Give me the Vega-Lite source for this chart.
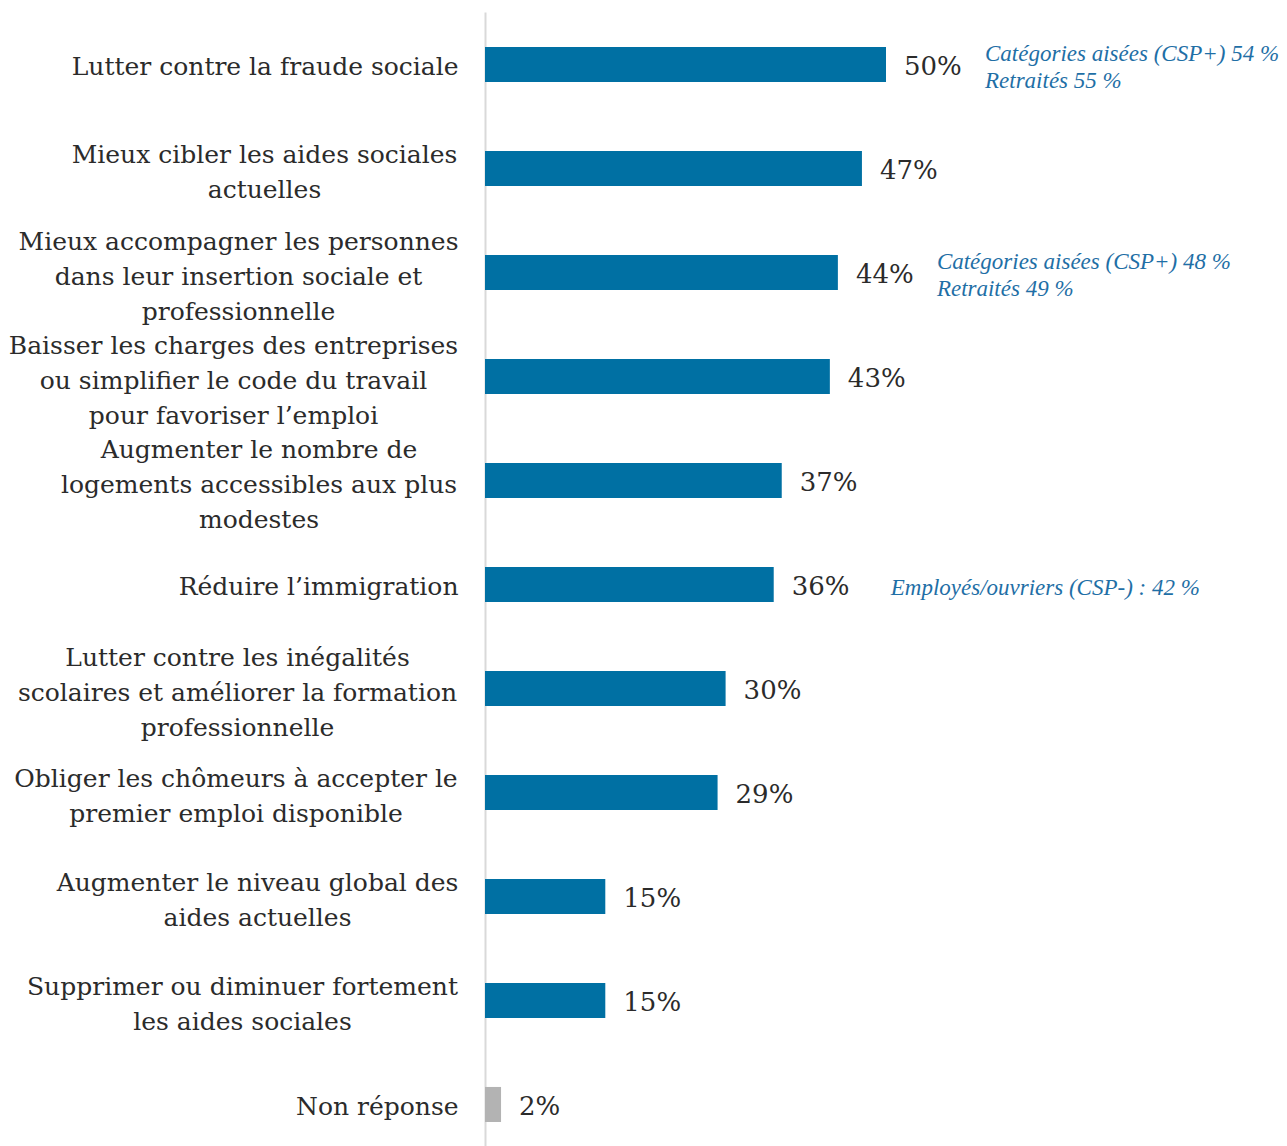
{
  "$schema": "https://vega.github.io/schema/vega-lite/v6.json",
  "autosize": "none",
  "padding": {"left": 485, "top": 12, "right": 0, "bottom": 0},
  "width": 802,
  "height": 1134,
  "background": "white",
  "config": {"view": {"stroke": null}, "font": "DejaVu Serif"},
  "data": {"values": [
    {"cat": "Lutter contre la fraude sociale", "value": 50, "pct": "50%", "grp": "a", "ann": "Catégories aisées (CSP+) 54 %|Retraités 55 %", "lines": 2},
    {"cat": "Mieux cibler les aides sociales|actuelles", "value": 47, "pct": "47%", "grp": "a", "ann": "", "lines": 0},
    {"cat": "Mieux accompagner les personnes|dans leur insertion sociale et|professionnelle", "value": 44, "pct": "44%", "grp": "a", "ann": "Catégories aisées (CSP+) 48 %|Retraités 49 %", "lines": 2},
    {"cat": "Baisser les charges des entreprises|ou simplifier le code du travail|pour favoriser l’emploi", "value": 43, "pct": "43%", "grp": "a", "ann": "", "lines": 0},
    {"cat": "Augmenter le nombre de|logements accessibles aux plus|modestes", "value": 37, "pct": "37%", "grp": "a", "ann": "", "lines": 0},
    {"cat": "Réduire l’immigration", "value": 36, "pct": "36%", "grp": "a", "ann": "Employés/ouvriers (CSP-) : 42 %", "lines": 1},
    {"cat": "Lutter contre les inégalités|scolaires et améliorer la formation|professionnelle", "value": 30, "pct": "30%", "grp": "a", "ann": "", "lines": 0},
    {"cat": "Obliger les chômeurs à accepter le|premier emploi disponible", "value": 29, "pct": "29%", "grp": "a", "ann": "", "lines": 0},
    {"cat": "Augmenter le niveau global des|aides actuelles", "value": 15, "pct": "15%", "grp": "a", "ann": "", "lines": 0},
    {"cat": "Supprimer ou diminuer fortement|les aides sociales", "value": 15, "pct": "15%", "grp": "a", "ann": "", "lines": 0},
    {"cat": "Non réponse", "value": 2, "pct": "2%", "grp": "b", "ann": "", "lines": 0}
  ]},
  "encoding": {
    "y": {
      "field": "cat", "type": "nominal", "sort": null,
      "scale": {"paddingInner": 0.663, "paddingOuter": 0.2835, "align": 0.593},
      "axis": {
        "title": null, "ticks": false, "domainColor": "#d9d9d9", "domainWidth": 2,
        "labelExpr": "split(datum.label, '|')",
        "labelFontSize": 25, "labelColor": "#2b2b2b",
        "labelLimit": 0, "labelLineHeight": 35, "labelFont": "DejaVu Serif",
        "labelBaseline": "middle",
        "labelAlign": {
          "condition": {"test": "indexof(datum.value, '|') >= 0", "value": "center"},
          "value": "right"
        },
        "labelPadding": {
          "condition": [
            {"test": "datum.value == 'Mieux cibler les aides sociales|actuelles'", "value": 221},
            {"test": "datum.value == 'Mieux accompagner les personnes|dans leur insertion sociale et|professionnelle'", "value": 247},
            {"test": "datum.value == 'Baisser les charges des entreprises|ou simplifier le code du travail|pour favoriser l’emploi'", "value": 252},
            {"test": "datum.value == 'Augmenter le nombre de|logements accessibles aux plus|modestes'", "value": 226.5},
            {"test": "datum.value == 'Lutter contre les inégalités|scolaires et améliorer la formation|professionnelle'", "value": 248},
            {"test": "datum.value == 'Obliger les chômeurs à accepter le|premier emploi disponible'", "value": 249.5},
            {"test": "datum.value == 'Augmenter le niveau global des|aides actuelles'", "value": 228},
            {"test": "datum.value == 'Supprimer ou diminuer fortement|les aides sociales'", "value": 243}
          ],
          "value": 27
        },
        "labelOffset": {
          "condition": [
            {"test": "length(split(datum.value, '|')) == 3", "value": -30},
            {"test": "length(split(datum.value, '|')) == 2", "value": -13.5}
          ],
          "value": 3
        }
      }
    }
  },
  "layer": [
    {
      "mark": {"type": "bar"},
      "encoding": {
        "x": {"field": "value", "type": "quantitative", "scale": {"domain": [0, 100]}, "axis": null},
        "color": {"field": "grp", "type": "nominal", "scale": {"domain": ["a", "b"], "range": ["#0070a3", "#b3b3b3"]}, "legend": null}
      }
    },
    {
      "mark": {"type": "text", "align": "left", "baseline": "middle", "dx": 18, "dy": 3, "fontSize": 26, "color": "#2b2b2b", "font": "DejaVu Serif"},
      "encoding": {
        "x": {"field": "value", "type": "quantitative"},
        "text": {"field": "pct", "type": "nominal"}
      }
    },
    {
      "transform": [{"filter": "datum.lines == 2"}],
      "mark": {"type": "text", "align": "left", "baseline": "middle", "dx": 99, "dy": -10, "fontSize": 23, "fontStyle": "italic", "color": "#1f6fa6", "lineBreak": "|", "lineHeight": 27, "font": "Liberation Serif"},
      "encoding": {
        "x": {"field": "value", "type": "quantitative"},
        "text": {"field": "ann", "type": "nominal"}
      }
    },
    {
      "transform": [{"filter": "datum.lines == 1"}],
      "mark": {"type": "text", "align": "left", "baseline": "middle", "dx": 117, "dy": 4, "fontSize": 23, "fontStyle": "italic", "color": "#1f6fa6", "font": "Liberation Serif"},
      "encoding": {
        "x": {"field": "value", "type": "quantitative"},
        "text": {"field": "ann", "type": "nominal"}
      }
    }
  ]
}
